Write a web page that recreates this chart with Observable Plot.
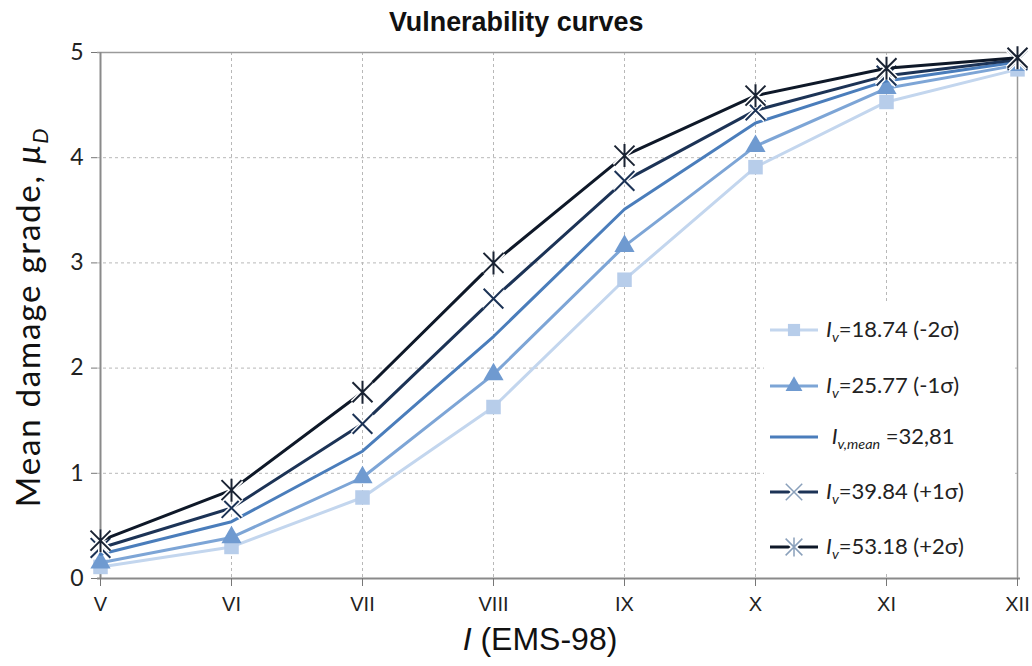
<!DOCTYPE html>
<html>
<head>
<meta charset="utf-8">
<script src="https://cdn.jsdelivr.net/npm/d3@7"></script>
<script src="https://cdn.jsdelivr.net/npm/@observablehq/plot@0.6"></script>
<style>
  html, body { margin: 0; padding: 0; background: #fff; }
  #wrap { position: relative; width: 1032px; height: 666px; overflow: hidden; font-family: Lato, "Open Sans", sans-serif; }
  #title { position: absolute; left: 0; width: 1032px; top: 6px; text-align: center; font-family: "Liberation Sans", Arial, sans-serif; font-weight: bold; font-size: 28px; color: #111; transform: scaleX(0.96); transform-origin: 520px 0; }
  #ylabel { position: absolute; left: 30px; top: 317px; transform: translate(-50%, -50%) rotate(-90deg); white-space: nowrap; font-size: 33px; letter-spacing: 1.8px; color: #111; }
  #xlabel { position: absolute; left: 540px; top: 621px; transform: translateX(-50%); white-space: nowrap; font-family: "Liberation Sans", Arial, sans-serif; font-size: 32px; color: #111; }
  #legend { position: absolute; left: 764px; top: 304px; width: 248px; height: 268px; background: #fff; }
  .row { position: absolute; left: 0; height: 30px; display: flex; align-items: center; font-size: 22px; color: #222; white-space: nowrap; }
  .row svg { flex: none; }
  sub { font-size: 0.65em; vertical-align: -0.35em; }
</style>
</head>
<body>
<div id="wrap">
  <div id="title">Vulnerability curves</div>
  <div id="chart"></div>
  <div id="ylabel">Mean damage grade, <i>μ<sub>D</sub></i></div>
  <div id="xlabel"><i>I</i> (EMS-98)</div>
  <div id="legend"></div>
</div>
<script>
// ---- data ----
const intensities = ["V", "VI", "VII", "VIII", "IX", "X", "XI", "XII"];
const yTicks = [0, 1, 2, 3, 4, 5];
const seriesNames = ["m2", "m1", "mean", "p1", "p2"];
const minus2Sigma = [0.11, 0.30, 0.77, 1.63, 2.84, 3.91, 4.53, 4.84];
const minus1Sigma = [0.15, 0.39, 0.96, 1.94, 3.16, 4.11, 4.66, 4.88];
const meanValues  = [0.23, 0.54, 1.21, 2.30, 3.51, 4.33, 4.73, 4.91];
const plus1Sigma  = [0.29, 0.67, 1.47, 2.66, 3.78, 4.45, 4.78, 4.93];
const plus2Sigma  = [0.36, 0.84, 1.77, 3.00, 4.02, 4.59, 4.85, 4.95];
const legendLabels = [
  "<i>I<sub>v</sub></i>=18.74 (-2σ)",
  "<i>I<sub>v</sub></i>=25.77 (-1σ)",
  "&nbsp;<i>I<sub>v,mean</sub></i> =32,81",
  "<i>I<sub>v</sub></i>=39.84 (+1σ)",
  "<i>I<sub>v</sub></i>=53.18 (+2σ)"
];

// ---- styles ----
const valuesBySeries = [minus2Sigma, minus1Sigma, meanValues, plus1Sigma, plus2Sigma];
const lineColors = ["#c3d6ee", "#7da5d6", "#4a7dbb", "#1c3356", "#0e1828"];
const markerColors = ["#b7cdea", "#6f9ad0", null, "#1c3356", "#1a2333"];
const excelStar = {
  draw(ctx, size) {
    const r = Math.sqrt(size / Math.PI);
    ctx.moveTo(-r, -r); ctx.lineTo(r, r);
    ctx.moveTo(-r, r); ctx.lineTo(r, -r);
    ctx.moveTo(0, -r * 1.15); ctx.lineTo(0, r * 1.15);
  }
};
const symbols = ["square", "triangle", null, "times", excelStar];
const symbolR = [8.2, 7.5, 0, 9, 10];
const filled = [true, true, false, false, false];

const rows = [];
seriesNames.forEach((s, i) => {
  valuesBySeries[i].forEach((v, j) => rows.push({series: s, idx: i, x: intensities[j], y: v}));
});

const gridStyle = {stroke: "#b8b8b8", strokeDasharray: "3,3", strokeWidth: 1};
const marks = [
  Plot.ruleY([1, 2, 3, 4], gridStyle),
  Plot.ruleX(intensities.slice(1, -1), gridStyle),
  Plot.ruleY([5], {stroke: "#9a9a9a", strokeWidth: 1.5}),
  Plot.ruleX([intensities[intensities.length - 1]], {stroke: "#9a9a9a", strokeWidth: 1.5}),
  Plot.ruleY([0], {stroke: "#8a8a8a", strokeWidth: 2}),
  Plot.ruleX([intensities[0]], {stroke: "#8a8a8a", strokeWidth: 2}),
  Plot.axisY({ticks: yTicks, tickFormat: d3.format("d"), tickSize: 6, tickPadding: 8, fontSize: 23, label: null, stroke: "#777", color: "#222"}),
  Plot.axisX({tickSize: 8, tickPadding: 10, fontSize: 20, label: null, stroke: "#777", color: "#222", fontFamily: "'Liberation Sans', sans-serif"})
];
seriesNames.forEach((s, i) => {
  const d = rows.filter(r => r.idx === i);
  marks.push(Plot.line(d, {x: "x", y: "y", stroke: lineColors[i], strokeWidth: 3}));
  if (symbols[i]) {
    if (filled[i]) {
      marks.push(Plot.dot(d, {x: "x", y: "y", symbol: () => symbols[i], r: symbolR[i], fill: markerColors[i], stroke: "none"}));
    } else {
      marks.push(Plot.dot(d, {x: "x", y: "y", symbol: () => symbols[i], r: symbolR[i], stroke: "#fff", strokeWidth: 5, fill: "none"}));
      marks.push(Plot.dot(d, {x: "x", y: "y", symbol: () => symbols[i], r: symbolR[i], stroke: markerColors[i], strokeWidth: 2, fill: "none"}));
    }
  }
});

const chart = Plot.plot({
  width: 1032,
  height: 666,
  marginLeft: 97,
  marginRight: 12,
  marginTop: 52,
  marginBottom: 88,
  style: {fontFamily: "Lato, 'Open Sans', sans-serif", background: "transparent"},
  x: {type: "point", domain: intensities, padding: 0},
  y: {domain: [0, 5]},
  symbol: {type: "identity"},
  marks
});
document.getElementById("chart").appendChild(chart);

// ---- legend ----
const legend = d3.select("#legend");
const rowTops = [11, 67, 118, 173, 228];
seriesNames.forEach((s, i) => {
  const row = legend.append("div").attr("class", "row").style("top", rowTops[i] + "px").style("left", "4px");
  const svg = row.append("svg").attr("width", 56).attr("height", 30);
  svg.append("line").attr("x1", 2).attr("x2", 50).attr("y1", 15).attr("y2", 15)
    .attr("stroke", lineColors[i]).attr("stroke-width", 3);
  if (symbols[i]) {
    const d3sym = {square: d3.symbolSquare, triangle: d3.symbolTriangle, times: d3.symbolTimes}[symbols[i]] || symbols[i];
    const path = d3.symbol(d3sym, Math.PI * symbolR[i] * symbolR[i] * 0.7)();
    const g = svg.append("g").attr("transform", "translate(26,15)");
    if (filled[i]) {
      g.append("path").attr("d", path).attr("fill", markerColors[i]);
    } else {
      g.append("path").attr("d", path).attr("fill", "none").attr("stroke", "#fff").attr("stroke-width", 5);
      g.append("path").attr("d", path).attr("fill", "none").attr("stroke", "#8aa0bb").attr("stroke-width", 1.5);
    }
  }
  row.append("span").style("margin-left", "2px").html(legendLabels[i]);
});
</script>
</body>
</html>
